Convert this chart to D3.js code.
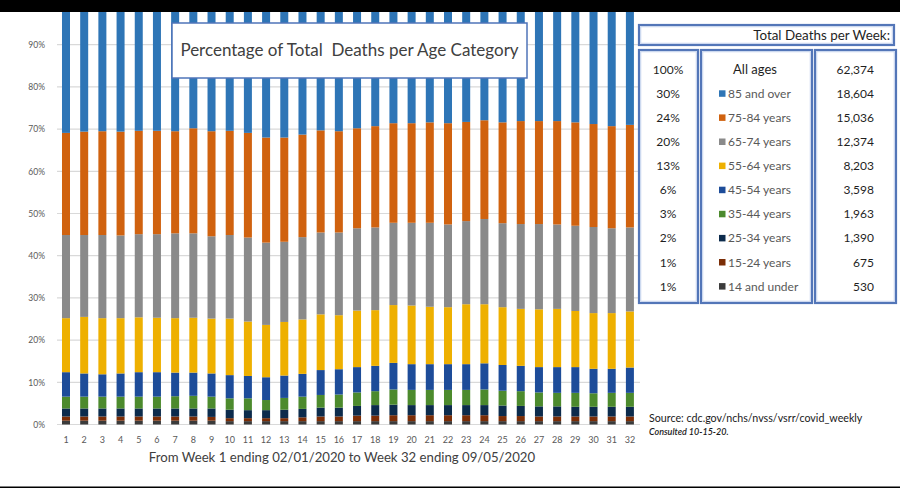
<!DOCTYPE html>
<html>
<head>
<meta charset="utf-8">
<script src="https://cdn.jsdelivr.net/npm/d3@7"></script>
<style>
  body { margin: 0; background: #ffffff; }
  svg { display: block; }
  text { font-family: Lato, "Open Sans", "Noto Sans", sans-serif; }
</style>
</head>
<body>
<svg id="chart" width="900" height="488"></svg>
<script>
// ---------------- DATA ----------------
const weeks = ["1","2","3","4","5","6","7","8","9","10","11","12","13","14","15","16",
               "17","18","19","20","21","22","23","24","25","26","27","28","29","30","31","32"];

const ageGroups = ["14 and under","15-24 years","25-34 years","35-44 years","45-54 years",
                   "55-64 years","65-74 years","75-84 years","85 and over"];

// share of deaths (%) per week, per age group
const under14  = [0.9,0.9,0.9,0.9,0.9,0.9,0.9,0.9,0.9,0.8,0.8,0.8,0.8,0.8,0.8,0.8,
                  0.8,0.8,0.8,0.8,0.8,0.8,0.8,0.8,0.8,0.8,0.8,0.8,0.8,0.8,0.8,0.8];
const age15_24 = [1.0,1.0,1.0,1.0,1.0,1.0,1.0,1.0,0.9,0.7,0.7,0.7,0.7,0.9,1.1,1.1,
                  1.3,1.3,1.4,1.4,1.4,1.4,1.4,1.4,1.2,1.2,1.1,1.1,1.1,1.1,1.1,1.1];
const age25_34 = [1.9,1.9,1.9,1.9,1.9,1.9,1.9,1.9,2.0,2.0,1.9,1.9,2.0,2.0,2.1,2.1,
                  2.3,2.5,2.5,2.4,2.4,2.4,2.4,2.4,2.5,2.4,2.4,2.4,2.3,2.3,2.3,2.3];
const age35_44 = [2.8,2.8,2.8,2.8,2.8,2.8,2.9,3.0,2.8,2.7,2.8,2.4,2.8,2.9,3.0,3.1,
                  3.2,3.3,3.6,3.6,3.6,3.6,3.6,3.7,3.5,3.5,3.3,3.2,3.3,3.2,3.3,3.3];
const age45_54 = [5.8,5.5,5.3,5.5,5.8,5.8,5.6,5.5,5.5,5.5,5.3,5.4,5.3,5.4,5.9,6.0,
                  6.0,6.0,6.3,6.1,6.1,6.1,6.1,6.2,6.1,6.0,6.0,6.1,6.1,5.8,5.7,6.0];
const age55_64 = [12.8,13.4,13.3,13.1,13.0,12.9,12.9,13.0,13.0,13.4,12.9,12.4,12.7,12.9,13.2,12.8,
                  13.4,13.2,13.7,13.9,13.6,13.5,14.2,14.0,13.7,13.5,13.7,13.8,13.3,13.2,13.2,13.3];
const age65_74 = [19.7,19.4,19.7,19.6,19.7,19.8,20.1,20.0,19.5,19.8,19.9,19.5,19.0,19.5,19.4,19.6,
                  19.5,19.6,19.5,19.6,19.9,19.6,19.7,20.2,19.9,20.1,20.2,20.0,20.2,20.4,20.1,19.9];
const age75_84 = [24.2,24.5,24.6,24.6,24.5,24.5,24.2,24.9,24.9,24.7,24.8,24.9,24.7,24.3,24.2,24.0,
                  23.7,24.0,23.6,23.6,23.8,24.0,23.5,23.4,23.9,24.4,24.4,24.5,24.5,24.4,24.2,24.3];
const age85up  = [30.9,30.6,30.5,30.6,30.4,30.4,30.5,29.8,30.5,30.4,30.9,32.0,32.0,31.3,30.3,30.5,
                  29.8,29.3,28.6,28.6,28.4,28.6,28.3,27.9,28.4,28.1,28.1,28.1,28.4,28.8,29.3,29.0];

const seriesValues = [under14, age15_24, age25_34, age35_44, age45_54, age55_64, age65_74, age75_84, age85up];

const yTickValues = [0, 0.1, 0.2, 0.3, 0.4, 0.5, 0.6, 0.7, 0.8, 0.9];
const yTickLabels = ["0%","10%","20%","30%","40%","50%","60%","70%","80%","90%"];

// table (right panel)
const tablePct    = ["100%","30%","24%","20%","13%","6%","3%","2%","1%","1%"];
const tableLabels = ["All ages","85 and over","75-84 years","65-74 years","55-64 years",
                     "45-54 years","35-44 years","25-34 years","15-24 years","14 and under"];
const tableTotals = ["62,374","18,604","15,036","12,374","8,203","3,598","1,963","1,390","675","530"];

const titleText  = "Percentage of Total  Deaths per Age Category";
const xTitleText = "From Week 1 ending 02/01/2020 to Week 32 ending 09/05/2020";
const headerText = "Total Deaths per Week:";
const sourceText = "Source: cdc.gov/nchs/nvss/vsrr/covid_weekly";
const consultText = "Consulted 10-15-20.";

// ---------------- STYLE ----------------
const colorMap = {
  "14 and under": "#3b3b3b",
  "15-24 years":  "#7b2d06",
  "25-34 years":  "#0c2b4c",
  "35-44 years":  "#4c8a2d",
  "45-54 years":  "#1d4c99",
  "55-64 years":  "#eeb000",
  "65-74 years":  "#8a8a8a",
  "75-84 years":  "#d0620f",
  "85 and over":  "#2e75b6"
};

// ---------------- BUILD ----------------
const rows = weeks.map((w, i) => {
  const r = { week: w };
  ageGroups.forEach((g, k) => { r[g] = seriesValues[k][i]; });
  return r;
});

const stacked = d3.stack().keys(ageGroups).offset(d3.stackOffsetExpand)(rows);

const svg = d3.select("#chart");
svg.append("rect").attr("width", 900).attr("height", 488).attr("fill", "#ffffff");

const x = d3.scaleBand().domain(weeks).range([56.9, 639]).paddingInner(0.56).paddingOuter(0.28);
const y = d3.scaleLinear().domain([0, 1]).range([424.5, 2.5]);

// gridlines
svg.append("g").selectAll("line").data(yTickValues).join("line")
  .attr("x1", 57).attr("x2", 640)
  .attr("y1", d => y(d)).attr("y2", d => y(d))
  .attr("stroke", "#d9d9d9").attr("stroke-width", 1.2);

// bars
svg.append("g").selectAll("g").data(stacked).join("g")
  .attr("fill", d => colorMap[d.key])
  .selectAll("rect").data(d => d).join("rect")
  .attr("x", d => x(d.data.week))
  .attr("width", x.bandwidth())
  .attr("y", d => y(d[1]))
  .attr("height", d => y(d[0]) - y(d[1]));

// y axis
const yAxis = svg.append("g").attr("transform", "translate(57,0)")
  .call(d3.axisLeft(y).tickValues(yTickValues).tickFormat((d, i) => yTickLabels[i]).tickSize(0).tickPadding(12));
yAxis.select(".domain").remove();
yAxis.selectAll("text").attr("fill", "#595959").style("font-size", "8.5px").style("font-family", "Lato, sans-serif");

// x axis
const xAxis = svg.append("g").attr("transform", "translate(0,424.5)")
  .call(d3.axisBottom(x).tickSize(0).tickPadding(12));
xAxis.select(".domain").remove();
xAxis.selectAll("text").attr("fill", "#595959").style("font-size", "9px").style("font-family", "Lato, sans-serif");

// x title
svg.append("text").attr("x", 342).attr("y", 457).attr("dy", "0.35em")
  .attr("text-anchor", "middle").attr("fill", "#404040")
  .style("font-size", "13.2px").text(xTitleText);

// title box
svg.append("rect").attr("x", 172).attr("y", 23).attr("width", 355).attr("height", 55)
  .attr("fill", "#ffffff").attr("stroke", "#4f74b9").attr("stroke-width", 1.5);
svg.append("text").attr("x", 349.5).attr("y", 50).attr("dy", "0.35em")
  .attr("text-anchor", "middle").attr("fill", "#404040")
  .style("font-size", "17px").style("white-space", "pre").text(titleText);

// table boxes
function box(x0, y0, w, h) {
  svg.append("rect").attr("x", x0).attr("y", y0).attr("width", w).attr("height", h)
    .attr("fill", "#ffffff").attr("stroke", "#5376b8").attr("stroke-width", 2.2);
  svg.append("rect").attr("x", x0 + 1.8).attr("y", y0 + 1.8).attr("width", w - 3.6).attr("height", h - 3.6)
    .attr("fill", "none").attr("stroke", "#b7c9ea").attr("stroke-width", 0.8);
}
box(639, 25, 255, 20);
box(639, 50, 59, 253);
box(701, 50, 111, 253);
box(815, 50, 81, 253);

svg.append("text").attr("x", 890).attr("y", 35).attr("dy", "0.35em")
  .attr("text-anchor", "end").attr("fill", "#1f1f1f").style("font-size", "13.4px").text(headerText);

const rowY = i => 69.5 + i * 24.1;

svg.append("g").selectAll("text").data(tablePct).join("text")
  .attr("x", 668).attr("y", (d, i) => rowY(i)).attr("dy", "0.35em")
  .attr("text-anchor", "middle").attr("fill", "#1f1f1f").style("font-size", "12px").text(d => d);

svg.append("g").selectAll("text").data(tableTotals).join("text")
  .attr("x", 874).attr("y", (d, i) => rowY(i)).attr("dy", "0.35em")
  .attr("text-anchor", "end").attr("fill", "#1f1f1f").style("font-size", "12px").text(d => d);

svg.append("text").attr("x", 755).attr("y", rowY(0)).attr("dy", "0.35em")
  .attr("text-anchor", "middle").attr("fill", "#1f1f1f").style("font-size", "13px").text(tableLabels[0]);

const leg = svg.append("g").selectAll("g").data(tableLabels.slice(1)).join("g")
  .attr("transform", (d, i) => `translate(719,${rowY(i + 1)})`);
leg.append("rect").attr("x", 0).attr("y", -3.3).attr("width", 6.5).attr("height", 6.5)
  .attr("fill", d => colorMap[d]);
leg.append("text").attr("x", 9).attr("dy", "0.35em").attr("fill", "#595959")
  .style("font-size", "12px").text(d => d);

// source
svg.append("text").attr("x", 649).attr("y", 418).attr("dy", "0.35em")
  .attr("fill", "#1a1a1a").style("font-size", "10.7px").text(sourceText);
svg.append("text").attr("x", 649).attr("y", 431.5).attr("dy", "0.35em")
  .attr("fill", "#1a1a1a").style("font-size", "9px").style("font-style", "italic").style("font-weight", "600").text(consultText);

// screen bands (top / bottom)
svg.append("rect").attr("x", 0).attr("y", 0).attr("width", 900).attr("height", 12).attr("fill", "#000000");
svg.append("rect").attr("x", 0).attr("y", 486.5).attr("width", 900).attr("height", 1.5).attr("fill", "#000000");
</script>
</body>
</html>
